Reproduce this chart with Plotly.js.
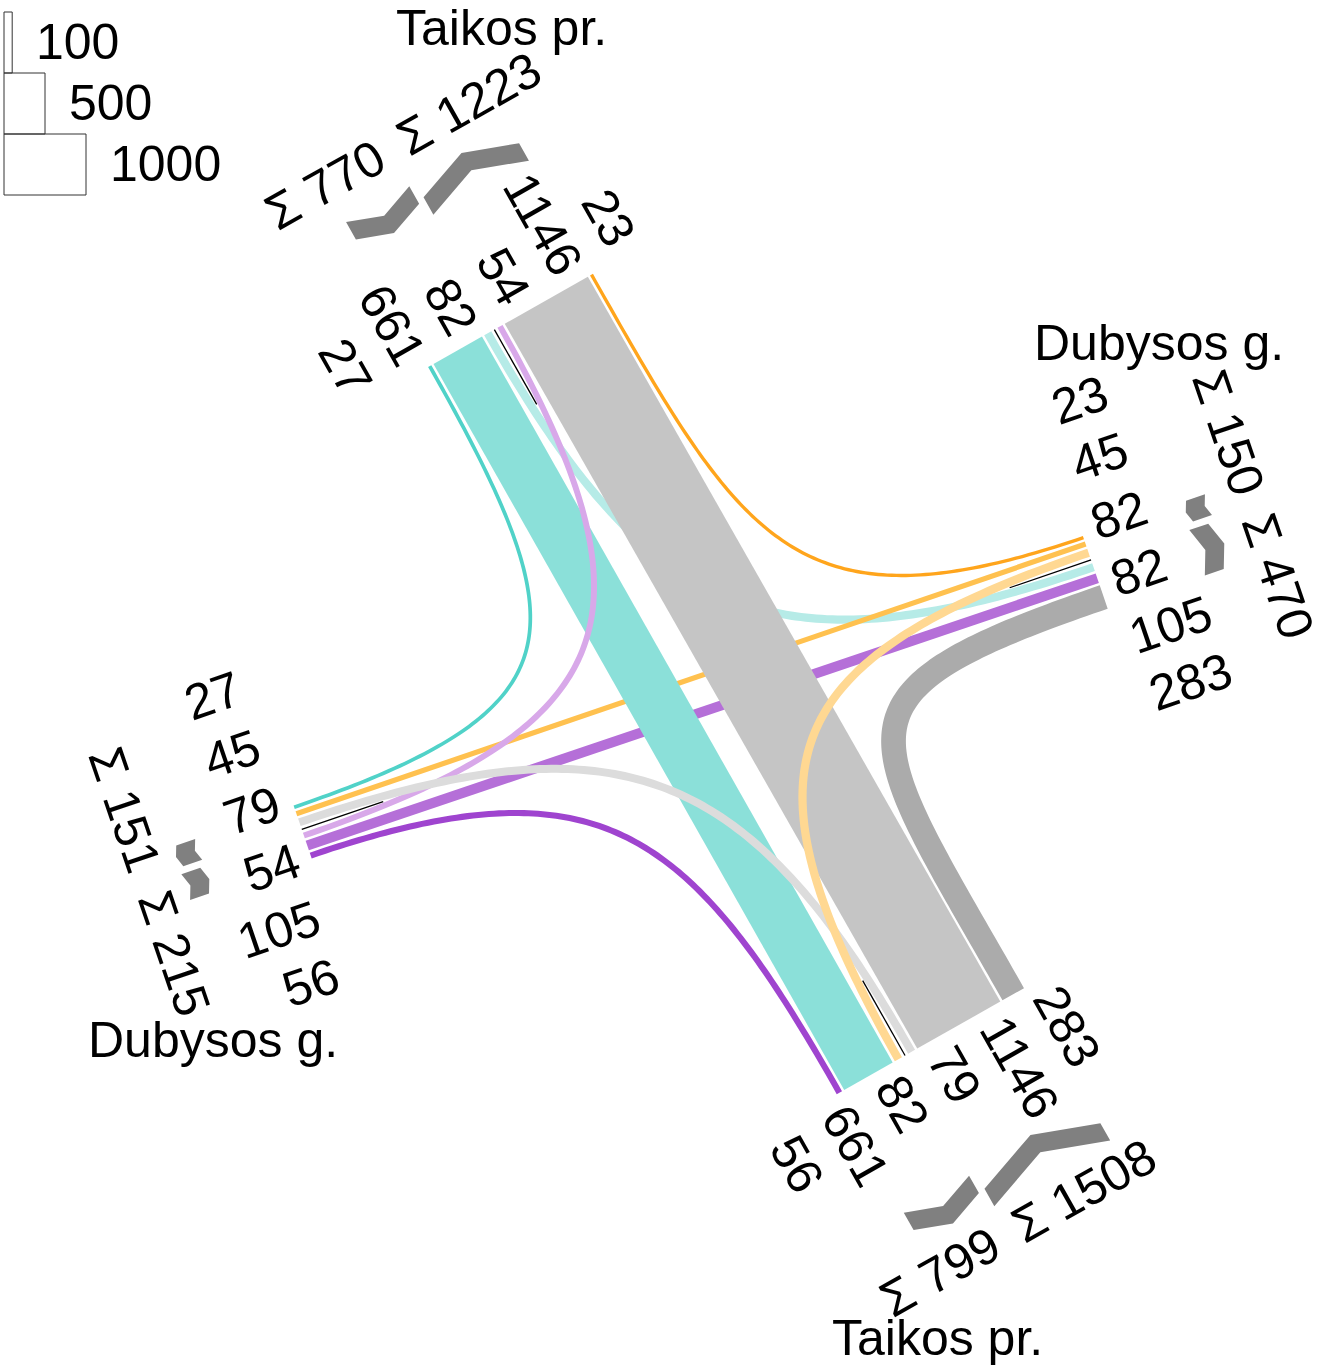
<!DOCTYPE html>
<html><head><meta charset="utf-8">
<script src="https://cdn.plot.ly/plotly-3.0.1.min.js"></script>
<style>html,body{margin:0;padding:0;background:#fff;}#chart{width:1334px;height:1365px;}</style>
</head><body><div id="chart"></div>
<script>
// ---------------- data ----------------
const armKeys  = ['T', 'R', 'B', 'L'];                       // clockwise: top, right, bottom, left
const armNames = ['Taikos pr.', 'Dubysos g.', 'Taikos pr.', 'Dubysos g.'];
const flowFrom  = ['T', 'T', 'T', 'R', 'R', 'R', 'B', 'B', 'B', 'L', 'L', 'L'];
const flowTo    = ['R', 'B', 'L', 'B', 'L', 'T', 'L', 'T', 'R', 'T', 'R', 'B'];
const flowValue = [82, 661, 27, 82, 45, 23, 79, 1146, 283, 54, 105, 56];
const legendValues = [100, 500, 1000];

// ---------------- styles ----------------
const flowColor = ['#b6ebe7', '#8be0d9', '#50d2c8', '#ffd892', '#ffc14f', '#ffa51c',
                   '#dcdcdc', '#c5c5c5', '#ababab', '#d8a8e9', '#b56fd8', '#9f44cf'];
const drawOrder = [0, 4, 10, 1, 7, 9, 6, 3, 2, 5, 8, 11];
const W = 1334, H = 1365;
const K = 0.082, ADDW = 1.5, GAP = 2.5, SEPH = 3.5;
const FS = 50, LFS = 47, FONT = 'Liberation Sans, Arial, sans-serif';
const deg = Math.PI / 180;
const CX = 700.2, CY = 693.4;
const angT = 60.5, angD = -18.85;
const axT = [Math.cos(angT * deg), Math.sin(angT * deg)];
const axD = [Math.cos(angD * deg), Math.sin(angD * deg)];
const latT = [Math.cos((angT - 90) * deg), Math.sin((angT - 90) * deg)];
const latD = [Math.cos((angD + 90) * deg), Math.sin((angD + 90) * deg)];
const arms = {
  T: {ax: axT, lat: latT, axAng: angT, latAng: angT - 90, out: -1, len: 418, chev: 150, sig: 209, name: [155, 677]},
  R: {ax: axD, lat: latD, axAng: angD, latAng: angD + 90, out: 1, len: 413, chev: 117, sig: 171, name: [-183, 547]},
  B: {ax: axT, lat: latT, axAng: angT, latAng: angT - 90, out: 1, len: 416, chev: 153, sig: 206, name: [-111, 678]},
  L: {ax: axD, lat: latD, axAng: angD, latAng: angD + 90, out: -1, len: 421, chev: 116, sig: 161, name: [171, 573]}
};

function pt(A, along, lat) {
  const a = arms[A];
  return [CX + a.ax[0] * a.out * along + a.lat[0] * lat,
          CY + a.ax[1] * a.out * along + a.lat[1] * lat];
}
const idx = k => armKeys.indexOf(k);
const key = i => armKeys[((i % 4) + 4) % 4];
function findFlow(a, b) { for (let i = 0; i < flowFrom.length; i++) if (flowFrom[i] === a && flowTo[i] === b) return i; return -1; }
const bw = v => K * v + ADDW;
const textLen = s => { let L = 0; for (const c of s) L += (c === ' ') ? 0.278 : (c === 'Σ' ? 0.6 : 0.556); return L * LFS; };

// ---------------- lane layout ----------------
const fromLat = {}, toLat = {};
armKeys.forEach(A => {
  const a = arms[A], i = idx(A);
  const h = [-a.out * a.ax[0], -a.out * a.ax[1]];
  const right = [-h[1], h[0]];
  const e = Math.sign(right[0] * a.lat[0] + right[1] * a.lat[1]);
  a.e = e;
  const enterList = [findFlow(A, key(i + 1)), findFlow(A, key(i + 2)), findFlow(A, key(i + 3))];
  const exitList = [findFlow(key(i - 1), A), findFlow(key(i - 2), A), findFlow(key(i + 1), A)];
  let cum = SEPH;
  enterList.forEach(f => { const w = bw(flowValue[f]); fromLat[f] = e * (cum + w / 2); cum += w + GAP; });
  a.enterOuter = e * (cum - GAP);
  a.enterTotal = enterList.reduce((s, f) => s + flowValue[f], 0);
  cum = SEPH;
  exitList.forEach(f => { const w = bw(flowValue[f]); toLat[f] = -e * (cum + w / 2); cum += w + GAP; });
  a.exitOuter = -e * (cum - GAP);
  a.exitTotal = exitList.reduce((s, f) => s + flowValue[f], 0);
  a.lanes = enterList.map(f => ({f, lat: fromLat[f]})).concat(exitList.map(f => ({f, lat: toLat[f]})));
});

// ---------------- bands ----------------
const traces = [];
function bez(p0, p1, p2, p3, t) {
  const u = 1 - t;
  return [u*u*u*p0[0] + 3*u*u*t*p1[0] + 3*u*t*t*p2[0] + t*t*t*p3[0],
          u*u*u*p0[1] + 3*u*u*t*p1[1] + 3*u*t*t*p2[1] + t*t*t*p3[1]];
}
function bezD(p0, p1, p2, p3, t) {
  const u = 1 - t;
  return [3*u*u*(p1[0]-p0[0]) + 6*u*t*(p2[0]-p1[0]) + 3*t*t*(p3[0]-p2[0]),
          3*u*u*(p1[1]-p0[1]) + 6*u*t*(p2[1]-p1[1]) + 3*t*t*(p3[1]-p2[1])];
}
drawOrder.forEach(f => {
  const A = flowFrom[f], B = flowTo[f], w = bw(flowValue[f]);
  const a = arms[A], b = arms[B];
  const turn = (idx(B) - idx(A) + 4) % 4;
  let xs = [], ys = [];
  if (turn === 2) {
    const la = fromLat[f], lb = toLat[f];
    [pt(A, a.len, la - w/2), pt(A, a.len, la + w/2), pt(B, b.len, lb + w/2), pt(B, b.len, lb - w/2)]
      .forEach(p => { xs.push(p[0]); ys.push(p[1]); });
  } else {
    const Hh = turn === 3 ? 305 : 335;
    const p0 = pt(A, a.len, fromLat[f]), p1 = pt(A, a.len - Hh, fromLat[f]);
    const p2 = pt(B, b.len - Hh, toLat[f]), p3 = pt(B, b.len, toLat[f]);
    const N = 120, L = [], R = [];
    for (let k = 0; k <= N; k++) {
      const t = k / N, p = bez(p0, p1, p2, p3, t), d = bezD(p0, p1, p2, p3, t);
      const n = Math.hypot(d[0], d[1]), nx = -d[1] / n, ny = d[0] / n;
      L.push([p[0] + nx * w/2, p[1] + ny * w/2]); R.push([p[0] - nx * w/2, p[1] - ny * w/2]);
    }
    L.concat(R.reverse()).forEach(p => { xs.push(p[0]); ys.push(p[1]); });
  }
  xs.push(xs[0]); ys.push(ys[0]);
  traces.push({type: 'scatter', x: xs, y: ys, mode: 'none', fill: 'toself', fillcolor: flowColor[f], hoverinfo: 'skip'});
});

// separators
armKeys.forEach(A => {
  const a = arms[A], p = pt(A, a.len, 0), q = pt(A, a.len - 86, 0);
  traces.push({type: 'scatter', x: [p[0], q[0]], y: [p[1], q[1]], mode: 'lines', line: {color: '#000', width: 1.3}, hoverinfo: 'skip'});
});

// chevrons (sum symbols)
const tan20 = Math.tan(20 * deg);
armKeys.forEach(A => {
  const a = arms[A], D = a.len + a.chev;
  [[a.e * SEPH, a.enterOuter, -1], [-a.e * SEPH, a.exitOuter, 1]].forEach(([l0, l1, dir]) => {
    const lm = (l0 + l1) / 2, d = Math.abs(l1 - l0) / 2 * tan20;
    const endA = D - dir * d / 2, midA = D + dir * d / 2, th = 10;
    const pts = [pt(A, endA + th, l0), pt(A, midA + th, lm), pt(A, endA + th, l1),
                 pt(A, endA - th, l1), pt(A, midA - th, lm), pt(A, endA - th, l0)];
    pts.push(pts[0]);
    traces.push({type: 'scatter', x: pts.map(p => p[0]), y: pts.map(p => p[1]), mode: 'none', fill: 'toself', fillcolor: '#808080', hoverinfo: 'skip'});
  });
});

// ---------------- annotations ----------------
const ann = [];
const txt = (x, y, text, angle, extra) => Object.assign({x, y, xref: 'x', yref: 'y', text, showarrow: false, textangle: angle,
  xanchor: 'center', yanchor: 'middle', font: {family: FONT, size: FS, color: '#000'}}, extra || {});
armKeys.forEach((A, i) => {
  const a = arms[A];
  const up = a.ax[1] * a.lat[0] - a.ax[0] * a.lat[1];
  const sorted = a.lanes.slice().sort((p, q) => p.lat - q.lat);
  sorted.forEach((ln, j) => {
    const s = String(flowValue[ln.f]);
    const p = pt(A, a.len + 15 + textLen(s) / 2, (j - 2.5) * 60.5 + 3.5 * up);
    ann.push(txt(p[0], p[1], s, a.axAng));
  });
  [[a.e, a.enterTotal], [-a.e, a.exitTotal]].forEach(([sg, tot]) => {
    const s = 'Σ ' + tot;
    const p = pt(A, a.len + a.sig, sg * (16 + textLen(s) / 2));
    ann.push(txt(p[0], p[1], s, a.latAng));
  });
  const pn = pt(A, a.name[1], a.name[0]);
  ann.push(txt(pn[0], pn[1], armNames[i], 0));
});

// legend
const shapes = [];
legendValues.forEach((v, i) => {
  const x0 = 4, x1 = 4 + K * v, y0 = 12 + i * 61, y1 = y0 + 61;
  shapes.push({type: 'rect', xref: 'x', yref: 'y', x0, x1, y0, y1, line: {color: '#333', width: 1}, fillcolor: 'rgba(0,0,0,0)'});
  ann.push(txt(x1 + 22, (y0 + y1) / 2 - 1, String(v), 0, {xanchor: 'left'}));
});

Plotly.newPlot('chart', traces, {
  width: W, height: H, margin: {l: 0, r: 0, t: 0, b: 0}, showlegend: false,
  paper_bgcolor: '#fff', plot_bgcolor: '#fff',
  xaxis: {range: [0, W], visible: false, fixedrange: true},
  yaxis: {range: [H, 0], visible: false, fixedrange: true},
  annotations: ann, shapes: shapes
}, {staticPlot: true, displayModeBar: false});
</script></body></html>
